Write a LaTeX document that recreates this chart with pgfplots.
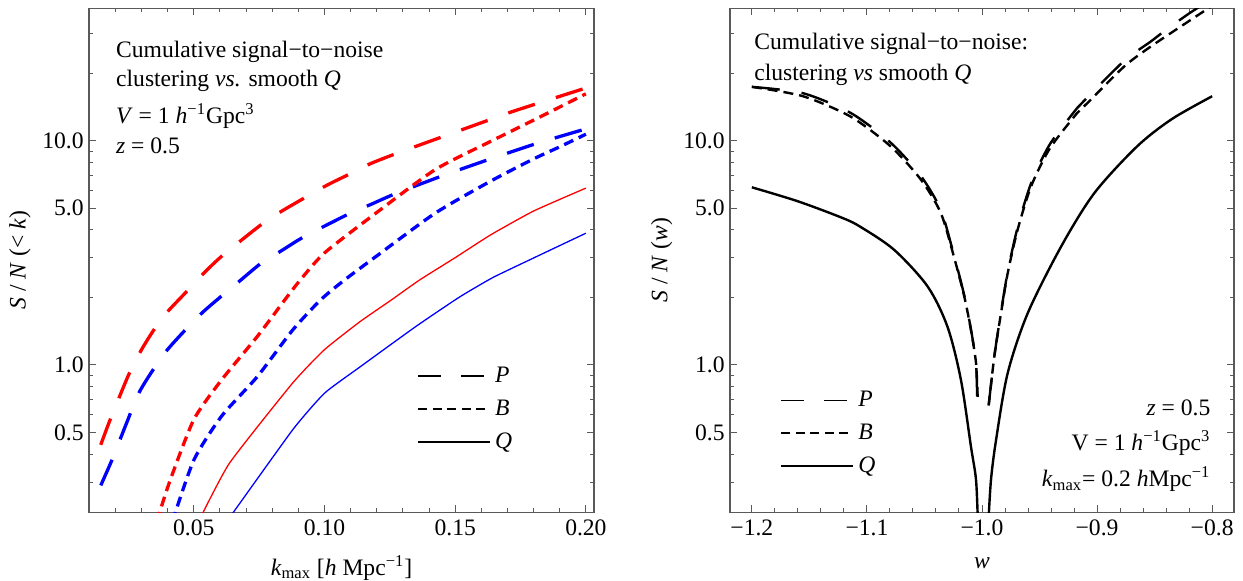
\documentclass[border=0pt]{standalone}
\usepackage{fontspec}
\setmainfont{Liberation Serif}
\usepackage{pgfplots}
\pgfplotsset{compat=1.18}
\definecolor{axframe}{gray}{0.35}
\pgfplotsset{
  legend image code/.code={\draw[#1] (0pt,0pt) -- (36pt,0pt);},
  Pstyle/.style={line width=1.65pt, dash pattern=on 14pt off 11pt, smooth, tension=0.4},
  Bstyle/.style={line width=1.65pt, dash pattern=on 5pt off 3pt, smooth, tension=0.4},
  Qstyle/.style={line width=0.65pt, smooth, tension=0.3},
  PstyleK/.style={black, line width=1.2pt, dash pattern=on 14pt off 11pt, smooth, tension=0.45},
  BstyleK/.style={black, line width=1.2pt, dash pattern=on 5pt off 3pt, smooth, tension=0.45},
  QstyleK/.style={black, line width=1.2pt, smooth, tension=0.5},
}
\begin{document}
\fontsize{11.8}{14}\selectfont
\begin{tikzpicture}
\path[use as bounding box] (0,0) rectangle (621.5pt,290pt);
% ---------------- left panel ----------------
\begin{axis}[
  scale only axis, width=252.5pt, height=252pt,
  at={(44.5pt,33.85pt)}, anchor=south west,
  ymode=log, ymin=0.22, ymax=39,
  ytick={0.5,1,5,10}, yticklabels={0.5,1.0,5.0,10.0},
  minor ytick={0.3,0.4,0.6,0.7,0.8,0.9,2,3,4,6,7,8,9,20,30},
  tick align=inside, tick pos=both, ticklabel pos=left,
  major tick length=3.5pt, minor tick length=2pt,
  axis line style={axframe, line width=0.6pt},
  every tick/.style={axframe, line width=0.5pt},
  every minor tick/.style={axframe, line width=0.5pt},
  yticklabel style={inner sep=2.5pt},
  xticklabel style={inner sep=3.5pt},
  unbounded coords=jump,
  xmin=0.0099, xmax=0.2031,
  xtick={0.05,0.1,0.15,0.2}, xticklabels={0.05,0.10,0.15,0.20},
  minor xtick={0.02,0.03,0.04,0.06,0.07,0.08,0.09,0.11,0.12,0.13,0.14,0.16,0.17,0.18,0.19},
  xlabel={\textit{k}\textsubscript{max} [\textit{h} Mpc\textsuperscript{−1}]},
  xlabel style={at={(axis description cs:0.5,-0.1244)}, anchor=base},
  ylabel={\textit{S} / \textit{N} (< \textit{k})},
  ylabel style={at={(axis description cs:-0.1366,0.5)}, anchor=center},
  legend cell align=left,
  legend style={draw=none, fill=none, inner sep=0pt, row sep=3pt,
    at={(axis description cs:0.649,0.2044)}, anchor=west},
]
% red P
\addplot[red, Pstyle, forget plot] coordinates {
(0.0144,0.44)(0.018,0.57)(0.025,0.90)(0.030,1.17)(0.035,1.45)(0.040,1.73)
(0.047,2.11)(0.053,2.51)(0.0606,3.05)(0.0757,4.22)(0.0833,4.83)(0.10,6.25)
(0.109,7.05)(0.1174,7.89)(0.1272,8.75)(0.1454,10.45)(0.1635,12.45)
(0.1719,13.5)(0.1817,14.7)(0.2,17.2)};
% blue P
\addplot[blue, Pstyle, forget plot] coordinates {
(0.0144,0.29)(0.0187,0.377)(0.024,0.54)(0.0295,0.77)(0.0394,1.15)(0.053,1.70)
(0.0674,2.36)(0.0757,2.84)(0.0833,3.22)(0.0923,3.74)(0.1098,4.75)(0.1174,5.18)
(0.127,5.8)(0.1454,7.0)(0.1635,8.3)(0.1817,9.77)(0.2,11.3)};
% red B
\addplot[red, Bstyle, forget plot] coordinates {
(0.0358,0.20)(0.041,0.307)(0.05,0.57)(0.0606,0.857)(0.0743,1.34)(0.0848,1.95)
(0.0907,2.39)(0.10,3.16)(0.1196,4.75)(0.1423,7.43)(0.1635,9.93)(0.1826,12.8)
(0.2,16.2)};
% blue B
\addplot[blue, Bstyle, forget plot] coordinates {
(0.0418,0.20)(0.05,0.376)(0.0606,0.59)(0.0743,0.887)(0.0878,1.43)(0.0985,1.95)
(0.1076,2.39)(0.1196,3.04)(0.1423,4.75)(0.1635,6.6)(0.18,8.3)(0.19,9.4)(0.2,10.7)};
% red Q
\addplot[red, Qstyle, forget plot] coordinates {
(0.0518,0.20)(0.0636,0.364)(0.0878,0.83)(0.10,1.17)(0.1136,1.56)(0.1256,1.95)
(0.1363,2.39)(0.15,3.01)(0.1635,3.8)(0.18,4.86)(0.2,6.15)};
% blue Q
\addplot[blue, Qstyle, forget plot] coordinates {
(0.0626,0.20)(0.0878,0.513)(0.10,0.748)(0.1136,0.98)(0.1348,1.48)(0.1514,2.0)
(0.1643,2.45)(0.18,3.0)(0.2,3.87)};
\addlegendimage{black, line width=0.75pt, dash pattern=on 11.5pt off 10pt}
\addlegendentry{\textit{P}}
\addlegendimage{black, line width=0.75pt, dash pattern=on 4.5pt off 2.75pt}
\addlegendentry{\textit{B}}
\addlegendimage{black, line width=1pt}
\addlegendentry{\textit{Q}}
\node[anchor=base west, inner sep=0pt] at (axis description cs:0.053,0.9028) {Cumulative signal−to−noise};
\node[anchor=base west, inner sep=0pt] at (axis description cs:0.053,0.8444) {clustering \textit{vs.} smooth \textit{Q}};
\node[anchor=base west, inner sep=0pt] at (axis description cs:0.053,0.7718) {\textit{V} = 1 \textit{h}\textsuperscript{−1}Gpc\textsuperscript{3}};
\node[anchor=base west, inner sep=0pt] at (axis description cs:0.053,0.7123) {\textit{z} = 0.5};
\end{axis}
% ---------------- right panel ----------------
\begin{axis}[
  scale only axis, width=252pt, height=252pt,
  at={(365pt,33.85pt)}, anchor=south west,
  ymode=log, ymin=0.22, ymax=39,
  ytick={0.5,1,5,10}, yticklabels={0.5,1.0,5.0,10.0},
  minor ytick={0.3,0.4,0.6,0.7,0.8,0.9,2,3,4,6,7,8,9,20,30},
  tick align=inside, tick pos=both, ticklabel pos=left,
  major tick length=3.5pt, minor tick length=2pt,
  axis line style={axframe, line width=0.6pt},
  every tick/.style={axframe, line width=0.5pt},
  every minor tick/.style={axframe, line width=0.5pt},
  yticklabel style={inner sep=2.5pt},
  xticklabel style={inner sep=3.5pt},
  unbounded coords=jump,
  xmin=-1.219, xmax=-0.781,
  xtick={-1.2,-1.1,-1.0,-0.9,-0.8}, xticklabels={−1.2,−1.1,−1.0,−0.9,−0.8},
  minor xtick={-1.18,-1.16,-1.14,-1.12,-1.08,-1.06,-1.04,-1.02,-0.98,-0.96,-0.94,-0.92,-0.88,-0.86,-0.84,-0.82},
  xlabel={\textit{w}},
  xlabel style={at={(axis description cs:0.5,-0.111)}, anchor=base},
  ylabel={\textit{S} / \textit{N} (\textit{w})},
  ylabel style={at={(axis description cs:-0.1357,0.5)}, anchor=center},
  legend cell align=left,
  legend style={draw=none, fill=none, inner sep=0pt, row sep=3pt,
    at={(axis description cs:0.0992,0.1567)}, anchor=west},
]
% P
\addplot[PstyleK, forget plot] coordinates {
(-1.2,17.4)(-1.1555,16.3)(-1.114,13.3)(-1.0793,9.8)(-1.053,6.95)(-1.0357,4.9)
(-1.0241,3.05)(-1.0154,2.04)(-1.0096,1.44)(-1.0052,1.02)(-1.0042,0.70)
(-1.0,nan)
(-0.9942,0.66)(-0.9893,1.09)(-0.9835,1.72)(-0.9777,2.6)(-0.9691,4.1)(-0.9574,6.45)
(-0.9413,9.6)(-0.9173,14.0)(-0.908,15.7)(-0.8762,22.8)(-0.853,27.8)(-0.84,31.3)
(-0.8183,37.5)(-0.80,43)};
% B
\addplot[BstyleK, forget plot] coordinates {
(-1.2,17.4)(-1.1555,15.8)(-1.114,12.8)(-1.0793,9.43)(-1.053,6.7)(-1.0357,4.75)
(-1.0241,3.0)(-1.0154,2.02)(-1.0096,1.43)(-1.0052,1.02)(-1.0038,0.72)
(-1.0,nan)
(-0.9942,0.66)(-0.9893,1.09)(-0.9835,1.70)(-0.9777,2.56)(-0.9691,4.0)(-0.9574,6.25)
(-0.9413,9.2)(-0.9173,13.3)(-0.908,14.8)(-0.8762,21.5)(-0.853,26.4)(-0.8183,34.7)
(-0.80,40)};
% Q
\addplot[QstyleK, forget plot] coordinates {
(-1.2,6.2)(-1.16,5.37)(-1.121,4.52)(-1.1053,4.12)(-1.0763,3.26)(-1.0473,2.24)
(-1.03,1.48)(-1.0183,0.857)(-1.0096,0.432)(-1.0052,0.307)(-1.0036,0.2)
(-1.0,nan)
(-0.9944,0.2)(-0.9922,0.307)(-0.9878,0.462)(-0.9777,0.918)(-0.9603,1.70)
(-0.9313,3.37)(-0.9023,5.85)(-0.8653,9.43)(-0.835,12.5)(-0.8,15.8)};
\addlegendimage{black, line width=0.75pt, dash pattern=on 11.5pt off 10pt}
\addlegendentry{\textit{P}}
\addlegendimage{black, line width=0.75pt, dash pattern=on 4.5pt off 2.75pt}
\addlegendentry{\textit{B}}
\addlegendimage{black, line width=1pt}
\addlegendentry{\textit{Q}}
\node[anchor=base west, inner sep=0pt] at (axis description cs:0.0476,0.9173) {Cumulative signal−to−noise:};
\node[anchor=base west, inner sep=0pt] at (axis description cs:0.0476,0.8577) {clustering \textit{vs} smooth \textit{Q}};
\node[anchor=base east, inner sep=0pt] at (axis description cs:0.954,0.193) {\textit{z} = 0.5};
\node[anchor=base east, inner sep=0pt] at (axis description cs:0.954,0.1236) {V = 1 \textit{h}\textsuperscript{−1}Gpc\textsuperscript{3}};
\node[anchor=base east, inner sep=0pt] at (axis description cs:0.954,0.0508) {\textit{k}\textsubscript{max}= 0.2 \textit{h}Mpc\textsuperscript{−1}};
\end{axis}
\end{tikzpicture}
\end{document}
